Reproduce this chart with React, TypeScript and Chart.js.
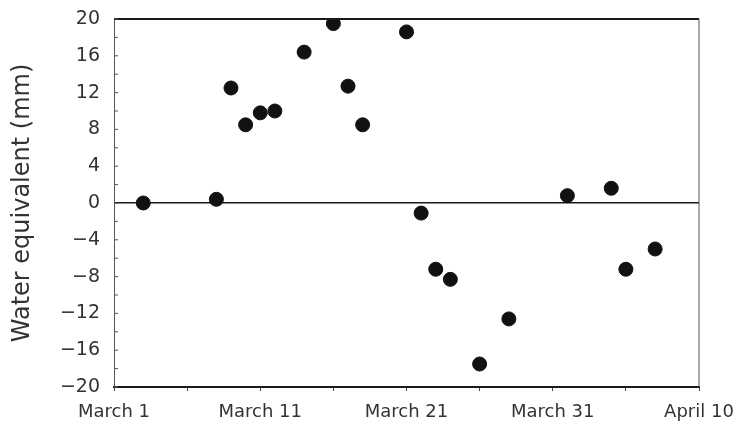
import React, { useEffect, useRef } from "react";
import { Chart, registerables } from "chart.js";

Chart.register(...registerables);

// Days after March 1 (March 1 = 0)
const dayOffsets = [2, 7, 8, 9, 10, 11, 13, 15, 16, 17, 20, 21, 22, 23, 25, 27, 31, 34, 35, 37];
const waterEquivalent = [0, 0.4, 12.5, 8.5, 9.8, 10.0, 16.4, 19.5, 12.7, 8.5, 18.6, -1.1, -7.2, -8.3, -17.5, -12.6, 0.8, 1.6, -7.2, -5.0];

const xTickDays = [0, 10, 20, 30, 40];
const xTickLabels = ["March 1", "March 11", "March 21", "March 31", "April 10"];
const yTickValues = [-20, -16, -12, -8, -4, 0, 4, 8, 12, 16, 20];
const yTitle = "Water equivalent (mm)";

const FONT = "'DejaVu Sans', sans-serif";
const INK = "#1a1a1a";

const framePlugin = {
  id: "frame",
  afterDatasetsDraw(chart: any) {
    const { ctx, chartArea } = chart;
    const { left, right, top, bottom } = chartArea;
    ctx.save();
    ctx.strokeStyle = INK;
    ctx.lineWidth = 2;
    ctx.beginPath();
    ctx.moveTo(left, top);
    ctx.lineTo(right, top);
    ctx.stroke();
    ctx.strokeStyle = "#555";
    ctx.lineWidth = 1;
    ctx.beginPath();
    ctx.moveTo(right, top);
    ctx.lineTo(right, bottom);
    ctx.stroke();
    // inside minor ticks on y axis every 2 units
    const ys = chart.scales.y;
    for (let v = ys.min; v <= ys.max; v += 2) {
      const py = ys.getPixelForValue(v);
      ctx.beginPath();
      ctx.moveTo(left, py);
      ctx.lineTo(left + 4, py);
      ctx.stroke();
    }
    ctx.restore();
  },
};

export default function App() {
  const ref = useRef<HTMLCanvasElement | null>(null);

  useEffect(() => {
    if (!ref.current) return;
    const chart = new Chart(ref.current, {
      type: "scatter",
      data: {
        datasets: [
          {
            data: dayOffsets.map((d, i) => ({ x: d, y: waterEquivalent[i] })),
            backgroundColor: "#111",
            borderColor: "#111",
            pointRadius: 7,
            pointHoverRadius: 7,
          },
        ],
      },
      options: {
        animation: false,
        responsive: true,
        maintainAspectRatio: false,
        layout: { padding: { top: 19, right: 50, left: 0, bottom: 0 } },
        plugins: { legend: { display: false }, tooltip: { enabled: false } },
        scales: {
          x: {
            type: "linear",
            min: 0,
            max: 40,
            afterFit: (s: any) => {
              s.height = 44;
            },
            border: { display: true, color: INK, width: 2 },
            grid: { drawOnChartArea: false, drawTicks: true, tickLength: 4, color: "#444" },
            ticks: {
              stepSize: 5,
              autoSkip: false,
              maxRotation: 0,
              padding: 11,
              color: "#333",
              font: { family: FONT, size: 18 },
              callback: (v: any) => {
                const idx = xTickDays.indexOf(Number(v));
                return idx >= 0 ? xTickLabels[idx] : "";
              },
            },
          },
          y: {
            type: "linear",
            min: -20,
            max: 20,
            afterFit: (s: any) => {
              s.width = 114;
            },
            afterBuildTicks: (s: any) => {
              s.ticks = yTickValues.map((v) => ({ value: v }));
            },
            border: { display: true, color: "#555", width: 1 },
            grid: {
              drawTicks: true,
              tickLength: 7,
              tickColor: "rgba(0,0,0,0)",
              lineWidth: 1.5,
              color: (c: any) => (c.tick && c.tick.value === 0 ? INK : "rgba(0,0,0,0)"),
            },
            ticks: {
              padding: 7,
              color: "#333",
              font: { family: FONT, size: 19 },
              callback: (v: any) => (Number(v) < 0 ? "\u2212" + Math.abs(Number(v)) : String(v)),
            },
            title: {
              display: true,
              text: yTitle,
              color: "#333",
              font: { family: FONT, size: 24 },
              padding: { top: 8, bottom: 0 },
            },
          },
        },
      },
      plugins: [framePlugin],
    });
    return () => chart.destroy();
  }, []);

  return (
    <div style={{ position: "fixed", left: 0, top: 0, width: 749, height: 431, background: "#fff" }}>
      <canvas ref={ref} />
    </div>
  );
}
